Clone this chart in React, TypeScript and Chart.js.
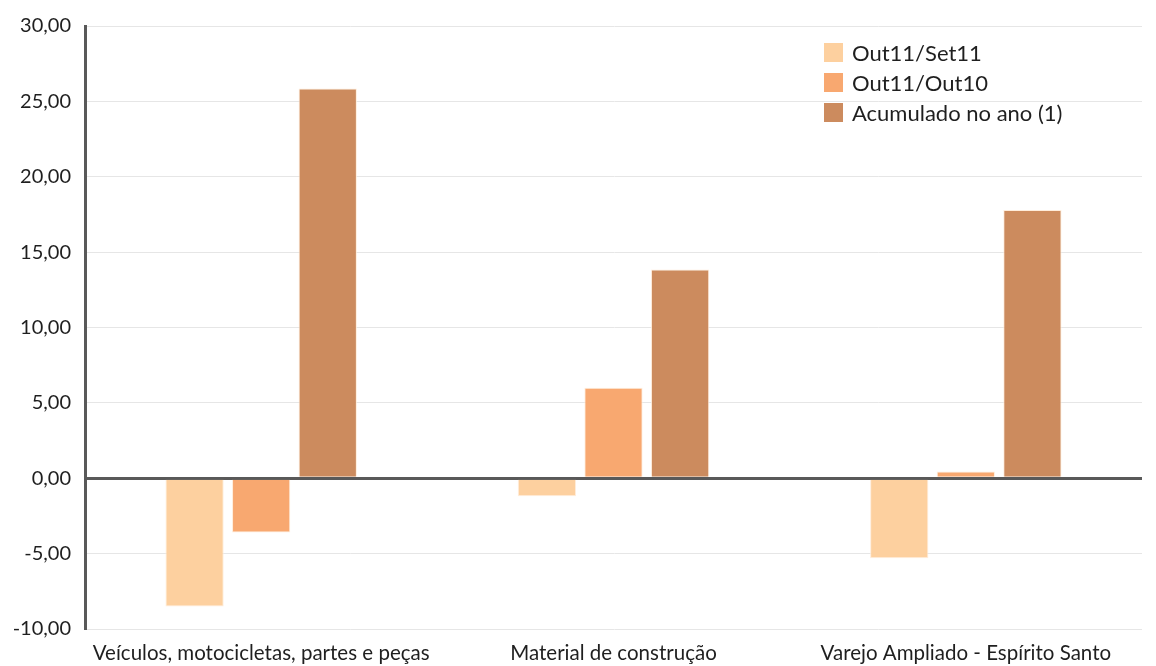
import React, { useEffect, useRef } from "react";
import { Chart, registerables } from "chart.js";

Chart.register(...registerables);

const categories = [
  "Veículos, motocicletas, partes e peças",
  "Material de construção",
  "Varejo Ampliado - Espírito Santo",
];
const seriesNames = ["Out11/Set11", "Out11/Out10", "Acumulado no ano (1)"];
const outSet = [-8.5, -1.2, -5.3];
const outOut = [-3.6, 6.0, 0.45];
const acumulado = [25.85, 13.85, 17.8];
const colors = ["#FDD09F", "#F8A870", "#CC8B5E"];
const FONT = "Lato, 'Open Sans', sans-serif";

const legendPlugin = {
  id: "customLegend",
  afterDraw(chart: any) {
    const ctx = chart.ctx;
    ctx.save();
    ctx.font = `22px ${FONT}`;
    ctx.textBaseline = "middle";
    ctx.textAlign = "left";
    chart.data.datasets.forEach((ds: any, i: number) => {
      const cy = 52.5 + i * 30;
      ctx.fillStyle = ds.backgroundColor;
      ctx.fillRect(824, cy - 9.5, 19, 19);
      ctx.fillStyle = "#1f1f1f";
      ctx.fillText(ds.label, 852, cy + 1);
    });
    ctx.restore();
  },
};

export default function App() {
  const ref = useRef<HTMLCanvasElement>(null);
  useEffect(() => {
    document.body.style.margin = "0";
    const data = [outSet, outOut, acumulado];
    const chart = new Chart(ref.current!, {
      type: "bar",
      data: {
        labels: categories,
        datasets: seriesNames.map((n, i) => ({
          label: n,
          data: data[i],
          backgroundColor: colors[i],
          borderColor: "rgba(255,235,215,0.9)",
          borderWidth: 1,
          categoryPercentage: 0.567,
          barPercentage: 0.875,
        })),
      },
      options: {
        animation: false,
        responsive: false,
        maintainAspectRatio: false,
        layout: { padding: { top: 25, right: 14, left: 0, bottom: 0 } },
        plugins: { legend: { display: false }, tooltip: { enabled: false } },
        scales: {
          x: {
            grid: { display: false },
            border: { display: false },
            ticks: { font: { family: FONT, size: 20.5 }, color: "#1f1f1f", padding: 4, maxRotation: 0 },
            afterFit: (s: any) => { s.height = 37; },
          },
          y: {
            min: -10,
            max: 30,
            ticks: {
              stepSize: 5,
              font: { family: FONT, size: 20 },
              color: "#1f1f1f",
              padding: 14,
              callback: (v: any) => Number(v).toFixed(2).replace(".", ","),
            },
            grid: {
              drawTicks: false,
              color: (c: any) => (c.tick && c.tick.value === 0 ? "#595959" : "#e6e6e6"),
              lineWidth: (c: any) => (c.tick && c.tick.value === 0 ? 3 : 1),
            },
            border: { color: "#595959", width: 3 },
            afterFit: (s: any) => { s.width = 85; },
          },
        },
      },
      plugins: [legendPlugin],
    });
    return () => chart.destroy();
  }, []);
  return (
    <div style={{ width: 1156, height: 666 }}>
      <canvas ref={ref} width={1156} height={666} style={{ display: "block" }} />
    </div>
  );
}
